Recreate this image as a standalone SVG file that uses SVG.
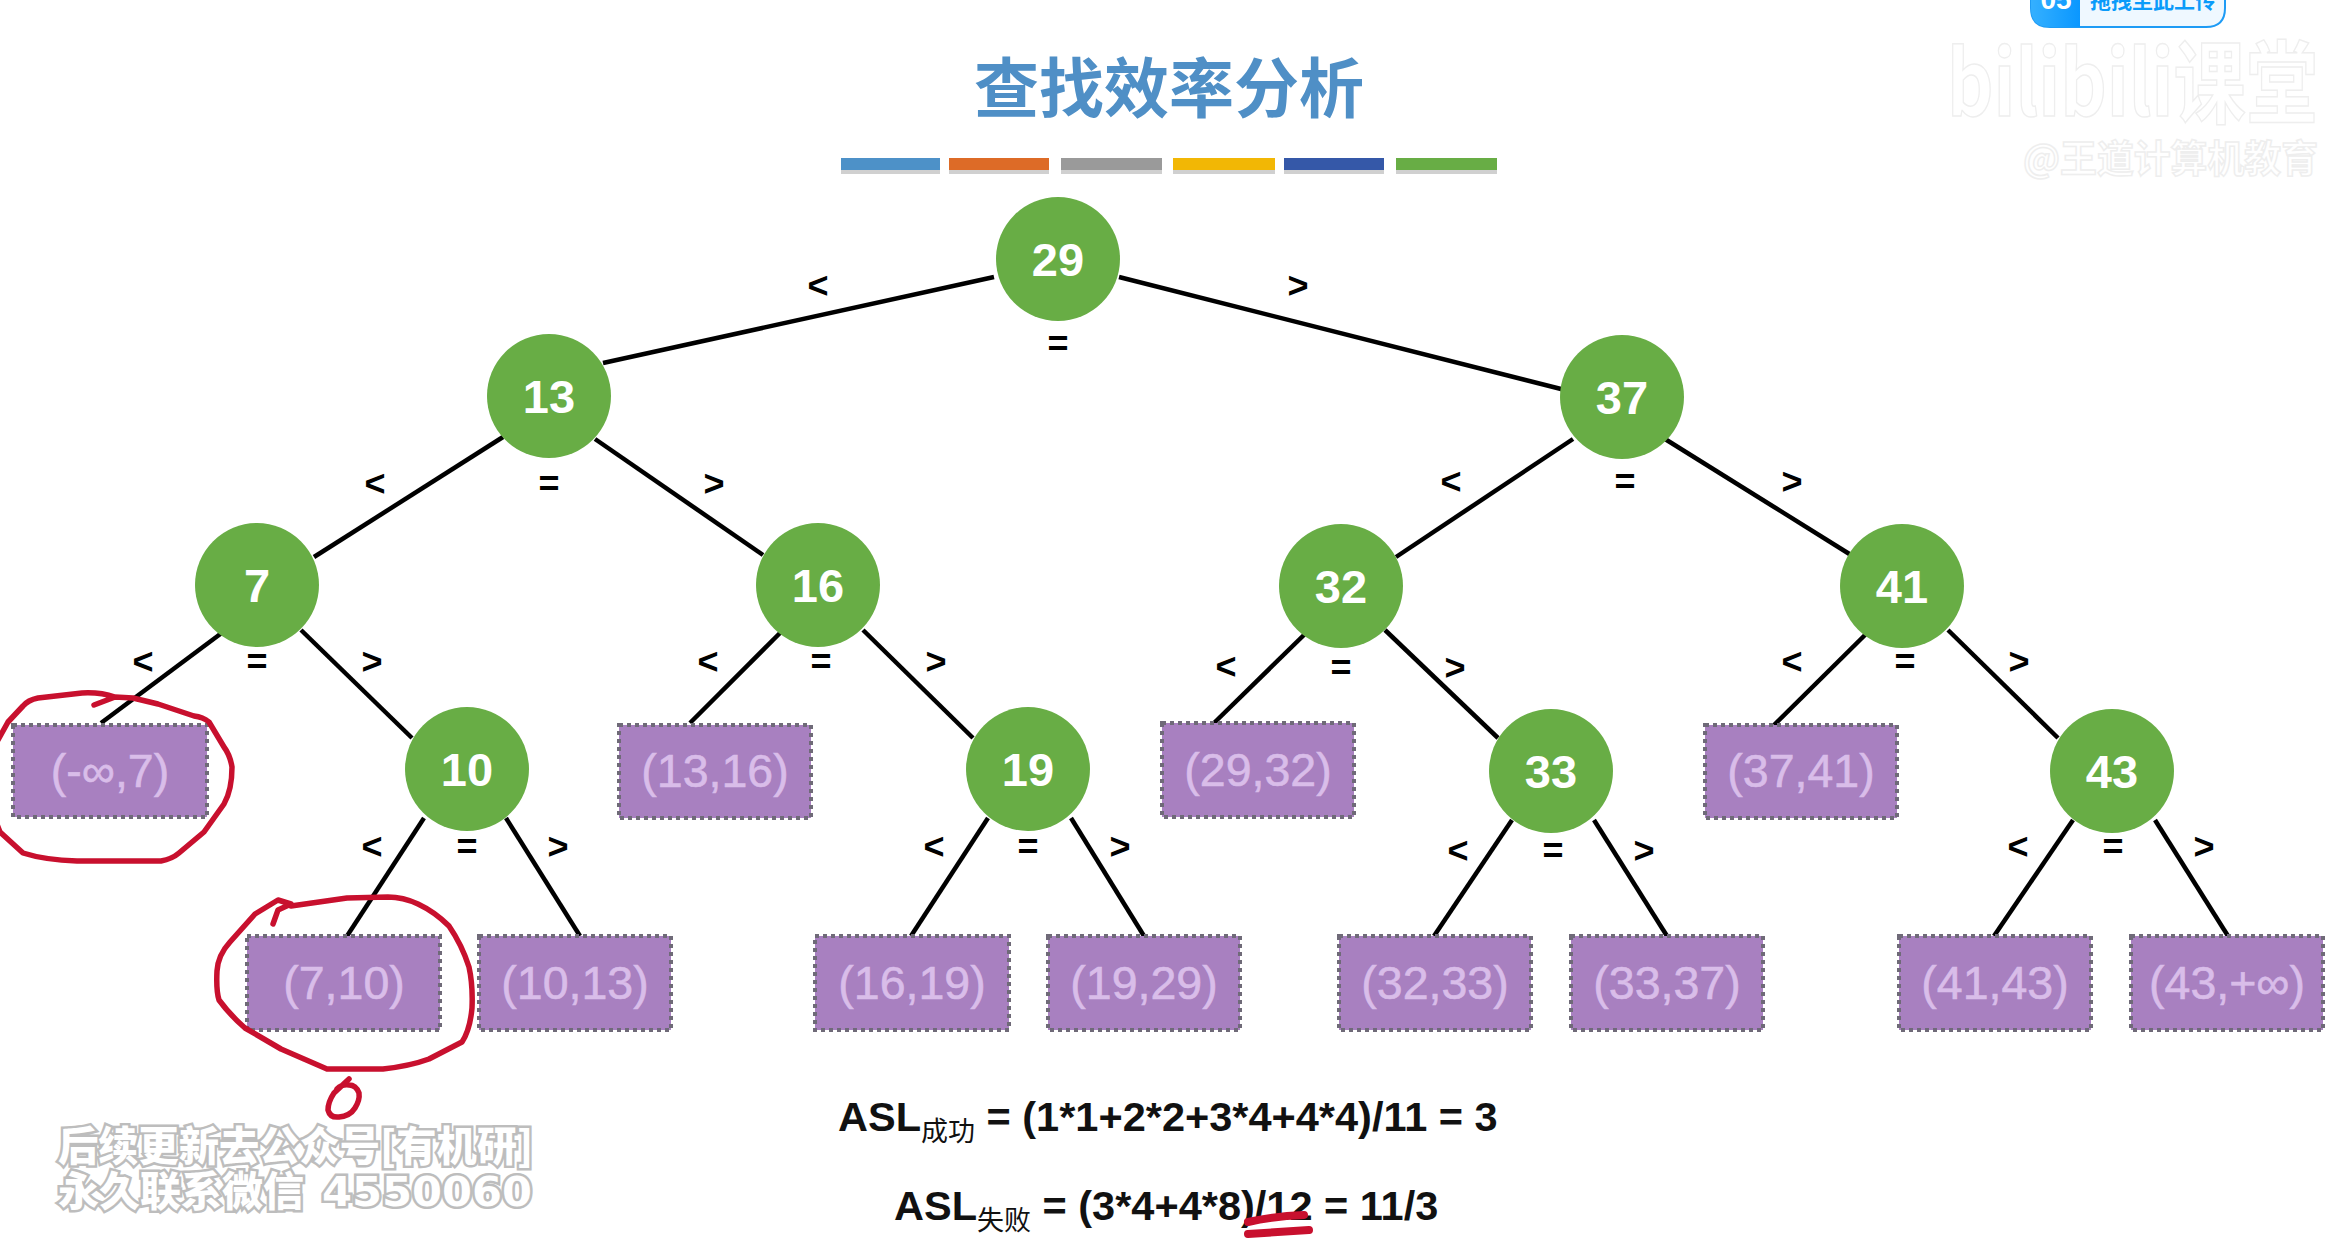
<svg xmlns="http://www.w3.org/2000/svg" width="2326" height="1258" viewBox="0 0 2326 1258">
<style>
text{font-family:"Liberation Sans","Noto Sans CJK SC",sans-serif}
.n circle{fill:#68AD45}
.n text{fill:#fff;font-size:47px;font-weight:700;text-anchor:middle}
.b rect{fill:#A880C0;stroke:#6F6A78;stroke-width:4;stroke-dasharray:4 4}
.b text{fill:#D9BDE9;font-size:46.5px;stroke:#D9BDE9;stroke-width:.6;text-anchor:middle}
#connectors line{stroke:#000;stroke-width:4.5}
#edge-labels text{font-size:36px;font-weight:700;text-anchor:middle;fill:#000}
.hw{fill:none;stroke:#C8102E;stroke-width:5.5;stroke-linecap:round;stroke-linejoin:round}
.u{stroke-width:8}
.f{font-size:41.5px;font-weight:700;fill:#111}
.s{font-size:27px;font-weight:400;font-family:"Noto Sans CJK SC",sans-serif}
.wm{font-size:41px;font-weight:900;fill:#fff;stroke:#BDBDBD;stroke-width:5;paint-order:stroke fill;font-family:"Noto Sans CJK SC",sans-serif}
.wf{fill:#fff;stroke:#EEEEEE;stroke-width:1.5;font-family:"Noto Sans CJK SC",sans-serif;font-weight:700}
</style>
<defs><linearGradient id="ub" x1="0" x2="1" y1="0" y2="0"><stop offset="0" stop-color="#35B0FF"/><stop offset="1" stop-color="#0A97FF"/></linearGradient></defs>
<rect width="2326" height="1258" fill="#fff"/>

<g id="upload-widget">
<path d="M2031 -2H2225V8Q2225 27 2206 27H2050Q2031 27 2031 8Z" fill="#EFF8FF" stroke="#1E9BF5" stroke-width="2"/>
<path d="M2031 -2H2080V27H2050Q2031 27 2031 8Z" fill="url(#ub)"/>
<text x="2056" y="9" font-size="28" font-weight="700" fill="#fff" text-anchor="middle">05</text>
<text x="2090" y="8" font-size="21" font-weight="700" fill="#0A9BFA" style="font-family:'Noto Sans CJK SC',sans-serif">拖拽至此上传</text>
</g>
<g id="platform-watermark">
<text x="1947" y="116" class="wf" font-size="90" textLength="371" lengthAdjust="spacingAndGlyphs">bilibili课堂</text>
<text x="2023" y="172" class="wf" font-size="38" textLength="295" lengthAdjust="spacingAndGlyphs">@王道计算机教育</text>
</g>

<text id="title" x="1169" y="112" font-size="65" font-weight="700" fill="#4F8FC6" text-anchor="middle" style="font-family:'Noto Sans CJK SC',sans-serif">查找效率分析</text>
<g id="title-bars">
<g fill="#000" opacity=".18"><rect x="841" y="166" width="99" height="8"/><rect x="949" y="166" width="100" height="8"/><rect x="1061" y="166" width="101" height="8"/><rect x="1173" y="166" width="102" height="8"/><rect x="1284" y="166" width="100" height="8"/><rect x="1396" y="166" width="101" height="8"/></g>
<rect x="841" y="158" width="99" height="12" fill="#4D91C8"/>
<rect x="949" y="158" width="100" height="12" fill="#DD6B27"/>
<rect x="1061" y="158" width="101" height="12" fill="#9A9A9A"/>
<rect x="1173" y="158" width="102" height="12" fill="#F2B705"/>
<rect x="1284" y="158" width="100" height="12" fill="#3558A8"/>
<rect x="1396" y="158" width="101" height="12" fill="#68AD45"/>
</g>

<g id="connectors">
<line x1="994" y1="277" x2="603" y2="363"/>
<line x1="1119" y1="277" x2="1565" y2="390"/>
<line x1="503" y1="437" x2="314" y2="557"/>
<line x1="595" y1="439" x2="763" y2="555"/>
<line x1="1573" y1="439" x2="1396" y2="557"/>
<line x1="1665" y1="439" x2="1851" y2="555"/>
<line x1="223" y1="632" x2="101" y2="723"/>
<line x1="301" y1="630" x2="412" y2="738"/>
<line x1="781" y1="632" x2="690" y2="723"/>
<line x1="863" y1="630" x2="973" y2="738"/>
<line x1="1307" y1="632" x2="1214" y2="723"/>
<line x1="1385" y1="630" x2="1498" y2="738"/>
<line x1="1866" y1="634" x2="1774" y2="725"/>
<line x1="1948" y1="630" x2="2058" y2="738"/>
<line x1="424" y1="818" x2="347" y2="936"/>
<line x1="506" y1="818" x2="580" y2="936"/>
<line x1="988" y1="818" x2="911" y2="936"/>
<line x1="1071" y1="818" x2="1144" y2="936"/>
<line x1="1512" y1="820" x2="1434" y2="936"/>
<line x1="1594" y1="820" x2="1667" y2="936"/>
<line x1="2073" y1="820" x2="1994" y2="936"/>
<line x1="2155" y1="820" x2="2228" y2="936"/>
</g>

<g id="edge-labels">
<text x="818" y="298">&lt;</text><text x="1298" y="298">&gt;</text><text x="1058" y="356">=</text>
<text x="375" y="496">&lt;</text><text x="549" y="496">=</text><text x="714" y="496">&gt;</text>
<text x="1451" y="494">&lt;</text><text x="1625" y="494">=</text><text x="1792" y="494">&gt;</text>
<text x="143" y="674">&lt;</text><text x="257" y="674">=</text><text x="372" y="674">&gt;</text>
<text x="708" y="674">&lt;</text><text x="821" y="674">=</text><text x="936" y="674">&gt;</text>
<text x="1226" y="679">&lt;</text><text x="1341" y="680">=</text><text x="1455" y="680">&gt;</text>
<text x="1792" y="674">&lt;</text><text x="1905" y="674">=</text><text x="2019" y="674">&gt;</text>
<text x="372" y="859">&lt;</text><text x="467" y="859">=</text><text x="558" y="859">&gt;</text>
<text x="934" y="859">&lt;</text><text x="1028" y="859">=</text><text x="1120" y="859">&gt;</text>
<text x="1458" y="863">&lt;</text><text x="1553" y="863">=</text><text x="1644" y="863">&gt;</text>
<text x="2018" y="859">&lt;</text><text x="2113" y="859">=</text><text x="2204" y="859">&gt;</text>
</g>

<g id="n29" class="n"><circle cx="1058" cy="259" r="62"/><text x="1058" y="276">29</text></g>
<g id="n13" class="n"><circle cx="549" cy="396" r="62"/><text x="549" y="413">13</text></g>
<g id="n37" class="n"><circle cx="1622" cy="397" r="62"/><text x="1622" y="414">37</text></g>
<g id="n7" class="n"><circle cx="257" cy="585" r="62"/><text x="257" y="602">7</text></g>
<g id="n16" class="n"><circle cx="818" cy="585" r="62"/><text x="818" y="602">16</text></g>
<g id="n32" class="n"><circle cx="1341" cy="586" r="62"/><text x="1341" y="603">32</text></g>
<g id="n41" class="n"><circle cx="1902" cy="586" r="62"/><text x="1902" y="603">41</text></g>
<g id="n10" class="n"><circle cx="467" cy="769" r="62"/><text x="467" y="786">10</text></g>
<g id="n19" class="n"><circle cx="1028" cy="769" r="62"/><text x="1028" y="786">19</text></g>
<g id="n33" class="n"><circle cx="1551" cy="771" r="62"/><text x="1551" y="788">33</text></g>
<g id="n43" class="n"><circle cx="2112" cy="771" r="62"/><text x="2112" y="788">43</text></g>

<g id="f1" class="b"><rect x="13" y="725" width="194" height="92"/><text x="110" y="787">(-∞,7)</text></g>
<g id="f2" class="b"><rect x="619" y="725" width="192" height="93"/><text x="715" y="787">(13,16)</text></g>
<g id="f3" class="b"><rect x="1162" y="723" width="192" height="94"/><text x="1258" y="786">(29,32)</text></g>
<g id="f4" class="b"><rect x="1705" y="725" width="192" height="93"/><text x="1801" y="787">(37,41)</text></g>
<g id="f5" class="b"><rect x="247" y="936" width="193" height="94"/><text x="344" y="999">(7,10)</text></g>
<g id="f6" class="b"><rect x="479" y="936" width="192" height="94"/><text x="575" y="999">(10,13)</text></g>
<g id="f7" class="b"><rect x="815" y="936" width="194" height="94"/><text x="912" y="999">(16,19)</text></g>
<g id="f8" class="b"><rect x="1048" y="936" width="192" height="94"/><text x="1144" y="999">(19,29)</text></g>
<g id="f9" class="b"><rect x="1339" y="936" width="192" height="94"/><text x="1435" y="999">(32,33)</text></g>
<g id="f10" class="b"><rect x="1571" y="936" width="192" height="94"/><text x="1667" y="999">(33,37)</text></g>
<g id="f11" class="b"><rect x="1899" y="936" width="192" height="94"/><text x="1995" y="999">(41,43)</text></g>
<g id="f12" class="b"><rect x="2131" y="936" width="192" height="94"/><text x="2227" y="999">(43,+∞)</text></g>

<text class="f" x="838" y="1131">ASL<tspan class="s" dy="10">成功</tspan><tspan dy="-10"> = (1*1+2*2+3*4+4*4)/11 = 3</tspan></text>
<text class="f" x="894" y="1220">ASL<tspan class="s" dy="10">失败</tspan><tspan dy="-10"> = (3*4+4*8)/12 = 11/3</tspan></text>

<g id="video-watermark">
<text class="wm" x="58" y="1161" textLength="475" lengthAdjust="spacingAndGlyphs">后续更新去公众号[有机研]</text>
<text class="wm" x="58" y="1206">永久联系微信</text>
<text class="wm" x="322" y="1206" font-size="42" textLength="210" lengthAdjust="spacingAndGlyphs" style="font-family:'DejaVu Sans',sans-serif;font-weight:700">4550060</text>
</g>

<g id="handwriting">
<path class="hw" d="M94 705L115 697Q100 692 82 693L38 698Q28 700 23 706L8 722L-2 740M-4 822L0 832L23 853Q45 860 77 861L161 861Q172 859 179 853L204 832L224 804Q232 790 232 767Q230 755 224 747L209 722Q203 717 194 716L158 704L133 698L115 697"/>
<path class="hw" d="M273 924L278 910L291 904L278 900L255 914L230 942Q218 955 217 971Q216 990 219 1000Q230 1015 245 1028L281 1049L327 1069L383 1069Q410 1066 429 1059L462 1042Q470 1030 472 1008Q473 985 469 967Q462 945 449 926Q435 912 418 904Q403 897 388 897L347 898L291 906"/>
<path class="hw" d="M349 1079L334 1093Q328 1102 328 1110Q330 1118 339 1117Q350 1116 355 1108Q360 1100 359 1093Q356 1085 349 1085Q342 1084 337 1089"/>
<path class="hw u" d="M1248 1222Q1275 1216 1304 1215"/>
<path class="hw u" d="M1248 1234Q1278 1232 1309 1230"/>
</g>
</svg>
